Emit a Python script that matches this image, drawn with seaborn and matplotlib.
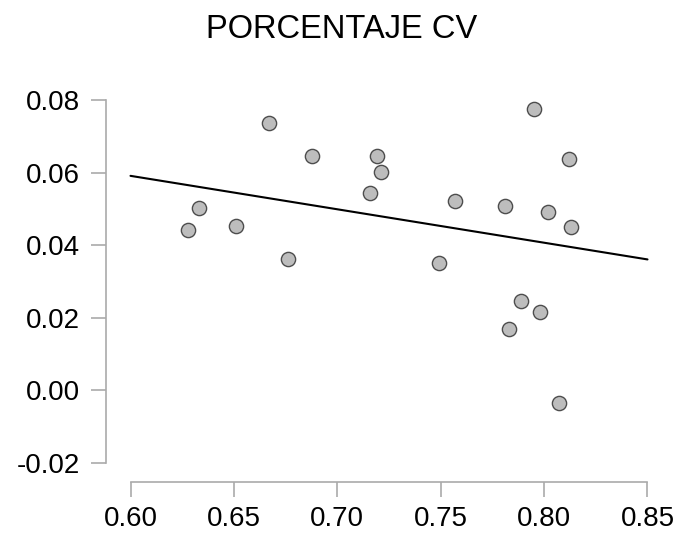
import seaborn as sns
import numpy as np
import matplotlib.pyplot as plt

# values
x = [0.628, 0.633, 0.651, 0.667, 0.676, 0.688, 0.716, 0.719, 0.721, 0.749,
     0.757, 0.781, 0.783, 0.789, 0.795, 0.798, 0.802, 0.807, 0.812, 0.813]
y = [0.0441, 0.0501, 0.0452, 0.0736, 0.0361, 0.0645, 0.0545, 0.0646, 0.0601, 0.0351,
     0.0521, 0.0508, 0.0168, 0.0245, 0.0774, 0.0215, 0.0491, -0.0036, 0.0636, 0.0450]
xticks = [0.60, 0.65, 0.70, 0.75, 0.80, 0.85]
yticks = [-0.02, 0.00, 0.02, 0.04, 0.06, 0.08]
title = "PORCENTAJE CV"

sns.set_style("ticks")
plt.rcParams['font.family'] = ['Liberation Sans', 'DejaVu Sans']

fig = plt.figure(figsize=(6.76, 5.34), dpi=100)
ax = fig.add_axes([106 / 676, 1 - 481.5 / 534, (669 - 106) / 676, (481.5 - 82) / 534])

# fitted line spans the tick range, like the R lines(predict()) call
ax.set_xlim(xticks[0], xticks[-1])
sns.regplot(x=x, y=y, scatter=False, ci=None, truncate=False, color="black",
            line_kws=dict(lw=1.5), ax=ax)
sns.scatterplot(x=x, y=y, s=105, color="#bdbdbd", edgecolor="#4d4d4d",
                linewidth=1.0, zorder=3, ax=ax)

ax.set_xlim(0.58815, 0.8604)
ax.set_ylim(-0.02519, 0.08497)
ax.set_xticks(xticks)
ax.set_xticklabels([f"{v:.2f}" for v in xticks])
ax.set_yticks(yticks)
ax.set_yticklabels([f"{v:.2f}" for v in yticks])

for s in ["top", "right"]:
    ax.spines[s].set_visible(False)
for s in ["left", "bottom"]:
    ax.spines[s].set_color("#aaaaaa")
    ax.spines[s].set_linewidth(1.2)
ax.spines["left"].set_bounds(yticks[0], yticks[-1])
ax.spines["bottom"].set_bounds(xticks[0], xticks[-1])
ax.tick_params(axis="both", length=11, width=1.2, color="#aaaaaa",
               labelsize=20, labelcolor="black", direction="out",
               bottom=True, left=True)
ax.tick_params(axis="y", pad=8)
ax.tick_params(axis="x", pad=7)
ax.set_xlabel("")
ax.set_ylabel("")

fig.text(342 / 676, 1 - 37.5 / 534, title, ha="center", va="baseline",
         fontsize=23.5, color="black")

fig.savefig("out.png", dpi=100)
